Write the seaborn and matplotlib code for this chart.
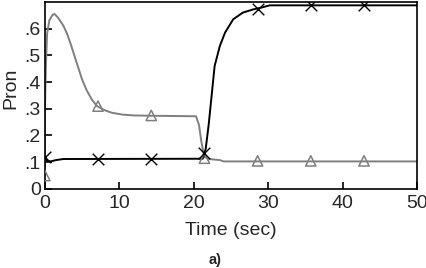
import numpy as np
import pandas as pd
import seaborn as sns
import matplotlib.pyplot as plt

# gray curve (triangles)
gray_t = [0, 0.02, 0.15, 0.3, 0.6, 1.0, 1.3, 1.8, 2.5, 3.0, 3.5, 4.3, 5.0, 5.6, 6.3, 7.0, 8.0, 9.0,
          10.5, 12, 14, 20.3, 20.7, 21.0, 21.4, 22, 23.5, 24, 50]
gray_y = [0.05, 0.30, 0.47, 0.58, 0.63, 0.65, 0.655, 0.64, 0.61, 0.58, 0.54, 0.47, 0.41, 0.37, 0.335,
          0.31, 0.295, 0.285, 0.278, 0.275, 0.274, 0.272, 0.24, 0.18, 0.12, 0.112, 0.108, 0.103, 0.103]

# black curve (crosses)
black_t = [0, 0.3, 0.8, 1.5, 2.5, 21.2, 21.6, 22.0, 22.4, 22.8, 23.5, 24.2, 25.3, 26.6, 28, 29, 30.2, 50]
black_y = [0.12, 0.105, 0.103, 0.108, 0.112, 0.113, 0.15, 0.24, 0.35, 0.46, 0.535, 0.585, 0.635,
           0.66, 0.672, 0.678, 0.687, 0.687]

# marker positions
mark_t = [0, 7.14, 14.29, 21.43, 28.57, 35.71, 42.86]
gray_mark = [0.05, 0.31, 0.275, 0.115, 0.105, 0.105, 0.105]
black_mark = [0.12, 0.113, 0.113, 0.135, 0.675, 0.687, 0.687]

xticks = [0, 10, 20, 30, 40, 50]
yticks = [0, 0.1, 0.2, 0.3, 0.4, 0.5, 0.6]
ytick_labels = ["0", ".1", ".2", ".3", ".4", ".5", ".6"]

sns.set_style("white")
plt.rcParams['font.family'] = ['Liberation Sans', 'DejaVu Sans']

fig = plt.figure(figsize=(4.27, 2.68), dpi=100)
ax = fig.add_axes([0.105, 0.295, 0.872, 0.698])

gcol = "#7f7f7f"
sns.lineplot(x=gray_t, y=gray_y, ax=ax, color=gcol, lw=1.4, estimator=None, sort=False)
sns.lineplot(x=black_t, y=black_y, ax=ax, color="black", lw=1.4, estimator=None, sort=False)
sns.scatterplot(x=mark_t, y=gray_mark, ax=ax, marker="^", s=55, facecolor="none",
                edgecolor=gcol, linewidth=1.1, zorder=5)
sns.scatterplot(x=mark_t, y=black_mark, ax=ax, marker="x", s=70, color="black",
                linewidth=1.0, zorder=5)

ax.set_xlim(0, 50)
ax.set_ylim(0, 0.70)
ax.set_xticks(xticks)
ax.set_xticklabels([str(v) for v in xticks])
ax.set_yticks(yticks)
ax.set_yticklabels(ytick_labels)
ax.tick_params(direction="in", length=5, width=1.2, color="black", labelsize=14, pad=3,
               bottom=True, left=True, top=False, right=False)
ax.tick_params(axis="x", pad=4.5)
for s in ax.spines.values():
    s.set_color("black")
    s.set_linewidth(1.2)

ax.set_xlabel("Time (sec)", fontsize=14, labelpad=7)
ax.set_ylabel("Pron", fontsize=14)
ax.yaxis.set_label_coords(-0.068, 0.54)
fig.text(0.503, 0.03, "a)", fontsize=10.5, fontweight="bold", ha="center", va="center")

fig.savefig("out.png", dpi=100)
